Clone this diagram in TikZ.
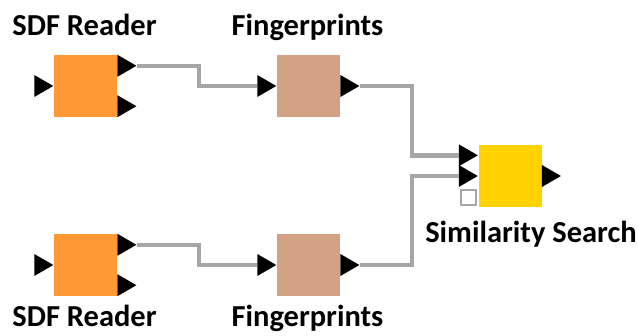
\documentclass[tikz,border=0pt]{standalone}
\usepackage{fontspec}
\setmainfont{Carlito}
\usetikzlibrary{positioning}
\usetikzlibrary{calc}
\usetikzlibrary{shapes.geometric}

\definecolor{readercol}{RGB}{255,153,51}
\definecolor{fpcol}{RGB}{211,161,132}
\definecolor{simcol}{RGB}{255,210,0}
\definecolor{wirecol}{RGB}{166,166,166}

\tikzset{
  nodebox/.style={minimum width=63pt, minimum height=62pt, inner sep=0pt},
  reader/.style={nodebox, fill=readercol},
  fprint/.style={nodebox, fill=fpcol},
  simsearch/.style={nodebox, fill=simcol},
  port/.style={isosceles triangle, isosceles triangle stretches, fill=black,
    inner sep=0pt, minimum width=22pt, minimum height=19pt},
  varport/.style={draw=wirecol, fill=white, line width=2.5pt, minimum size=15pt, inner sep=0pt},
  wire/.style={draw=wirecol, line width=4.5pt},
  title/.style={font=\fontsize{30.5}{36}\selectfont\bfseries, inner sep=0pt, anchor=base}
}

\begin{document}
\begin{tikzpicture}[x=1pt, y=-1pt]
\useasboundingbox (0,0) rectangle (638,336);

% nodes
\node[reader] (r1) at (85.5,86) {};
\node[fprint] (f1) at (308.5,86) {};
\node[simsearch] (sim) at (510,176) {};
\node[reader] (r2) at (85.5,265) {};
\node[fprint] (f2) at (308.5,265) {};

% ports
\node[port, anchor=apex] (r1in) at (r1.west) {};
\node[port, anchor=lower side] (r1o1) at ($(r1.north east)+(0,11)$) {};
\node[port, anchor=lower side] (r1o2) at ($(r1.south east)+(0,-11)$) {};
\node[port, anchor=apex] (f1in) at (f1.west) {};
\node[port, anchor=lower side] (f1out) at (f1.east) {};

\node[port, anchor=apex] (r2in) at (r2.west) {};
\node[port, anchor=lower side] (r2o1) at ($(r2.north east)+(0,11)$) {};
\node[port, anchor=lower side] (r2o2) at ($(r2.south east)+(0,-11)$) {};
\node[port, anchor=apex] (f2in) at (f2.west) {};
\node[port, anchor=lower side] (f2out) at (f2.east) {};

\node[port, anchor=apex] (simin1) at ($(sim.north west)+(0,10.5)$) {};
\node[port, anchor=apex] (simin2) at (sim.west) {};
\node[port, anchor=lower side] (simout) at (sim.east) {};
\node[varport, anchor=south east] (simvar) at ($(sim.south west)+(-1,-1)$) {};

% connections
\draw[wire] (r1o1.apex) -- ++(62,0) |- (f1in.lower side);
\draw[wire] (f1out.apex) -- ++(52,0) |- (simin1.lower side);
\draw[wire] (r2o1.apex) -- ++(62,0) |- (f2in.lower side);
\draw[wire] (f2out.apex) -- ++(52,0) |- (simin2.lower side);

% labels
\node[title] (r1lab) at (84.5,36) {SDF Reader};
\node[title] (f1lab) at (307.5,36) {Fingerprints};
\node[title] (simlab) at (531,243) {Similarity Search};
\node[title] (r2lab) at (84.5,327) {SDF Reader};
\node[title] (f2lab) at (307.5,327) {Fingerprints};
\end{tikzpicture}
\end{document}
